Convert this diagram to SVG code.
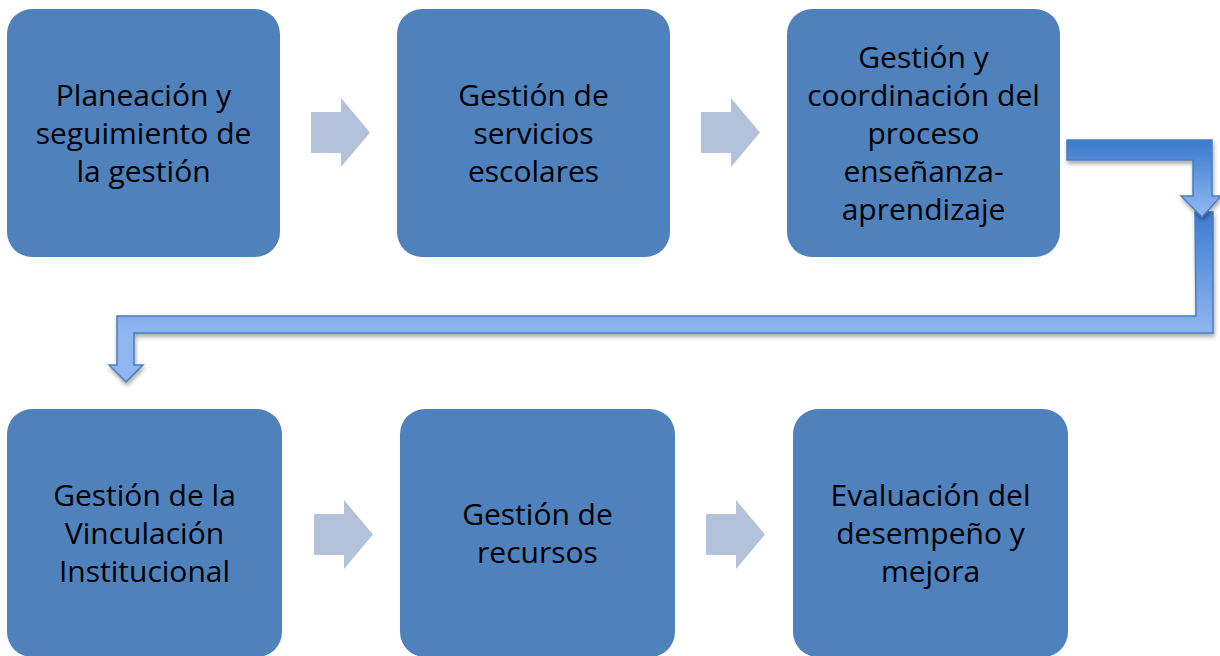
<svg xmlns="http://www.w3.org/2000/svg" width="1220" height="656" viewBox="0 0 1220 656">
<defs>
<style>
.box{fill:#4f81bd;}
.t{font-family:"Open Sans","Liberation Sans",sans-serif;font-size:30px;fill:#000;text-anchor:middle;font-variant-ligatures:none;}
.sa{fill:#b3c2da;}
.bent{stroke:#4a7ebb;stroke-width:1.5;stroke-linejoin:miter;}
</style>
<linearGradient id="g1" x1="0" y1="140" x2="0" y2="217" gradientUnits="userSpaceOnUse">
<stop offset="0" stop-color="#3a7acd"/>
<stop offset="1" stop-color="#93baf2"/>
</linearGradient>
<linearGradient id="g2" x1="0" y1="215" x2="0" y2="333" gradientUnits="userSpaceOnUse">
<stop offset="0" stop-color="#3f7ecf"/>
<stop offset="1" stop-color="#8fb6f1"/>
</linearGradient>
<filter id="sh" x="-10%" y="-10%" width="130%" height="140%">
<feGaussianBlur in="SourceAlpha" stdDeviation="2"/>
<feOffset dx="1" dy="3"/>
<feComponentTransfer><feFuncA type="linear" slope="0.35"/></feComponentTransfer>
<feMerge><feMergeNode/><feMergeNode in="SourceGraphic"/></feMerge>
</filter>
</defs>
<rect width="1220" height="656" fill="#fff"/>
<g id="connectors">
<path class="sa" d="M311,112 H341 V98 L370,132.5 L341,167 V153 H311 Z"/>
<path class="sa" d="M701,112 H731 V98 L760,132.5 L731,167 V153 H701 Z"/>
<path class="sa" d="M314,514 H344 V500 L373,534.5 L344,569 V555 H314 Z"/>
<path class="sa" d="M706,514 H736 V500 L765,534.5 L736,569 V555 H706 Z"/>
<path class="bent" fill="url(#g2)" filter="url(#sh)" d="M1195,212 H1213 V333 H134 V365 H143 L126,382 L109,365 H117 V316 H1196 Z"/>
<path class="bent" fill="url(#g1)" filter="url(#sh)" d="M1067,140 H1212 V196 H1221 L1202,217 L1181,196 H1193 V160 H1067 Z"/>
</g>
<g id="n1"><rect class="box" x="7" y="9" width="273" height="248" rx="25"/>
<text class="t"><tspan x="143.5" y="106">Planeación y</tspan><tspan x="143.5" y="144">seguimiento de</tspan><tspan x="143.5" y="182">la gestión</tspan></text></g>
<g id="n2"><rect class="box" x="397" y="9" width="273" height="248" rx="25"/>
<text class="t"><tspan x="533.5" y="106">Gestión de</tspan><tspan x="533.5" y="144">servicios</tspan><tspan x="533.5" y="182">escolares</tspan></text></g>
<g id="n3"><rect class="box" x="787" y="9" width="273" height="248" rx="25"/>
<text class="t"><tspan x="923.5" y="68">Gestión y</tspan><tspan x="923.5" y="106">coordinación del</tspan><tspan x="923.5" y="144">proceso</tspan><tspan x="923.5" y="182">enseñanza-</tspan><tspan x="923.5" y="220">aprendizaje</tspan></text></g>
<g id="n4"><rect class="box" x="7" y="409" width="275" height="248" rx="25"/>
<text class="t"><tspan x="144.5" y="506">Gestión de la</tspan><tspan x="144.5" y="544">Vinculación</tspan><tspan x="144.5" y="582">Institucional</tspan></text></g>
<g id="n5"><rect class="box" x="400" y="409" width="275" height="248" rx="25"/>
<text class="t"><tspan x="537.5" y="525">Gestión de</tspan><tspan x="537.5" y="563">recursos</tspan></text></g>
<g id="n6"><rect class="box" x="793" y="409" width="275" height="248" rx="25"/>
<text class="t"><tspan x="930.5" y="506">Evaluación del</tspan><tspan x="930.5" y="544">desempeño y</tspan><tspan x="930.5" y="582">mejora</tspan></text></g>
</svg>
